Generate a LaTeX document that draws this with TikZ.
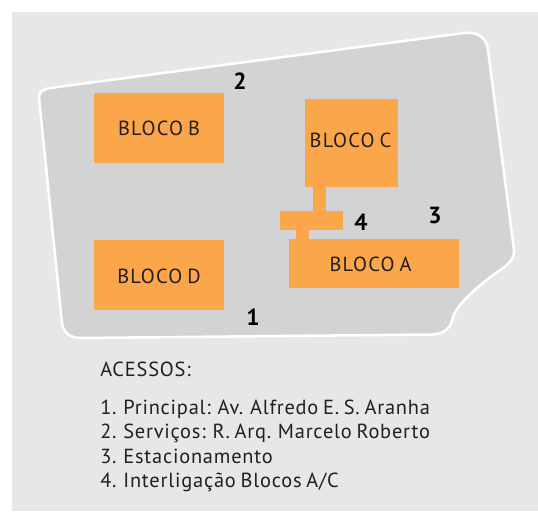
\documentclass[tikz,border=0pt]{standalone}
\usepackage{fontspec}
\setmainfont{PT Sans}
\newfontfamily\blocofont[LetterSpace=6,WordSpace=0.75]{PT Sans}
\newfontfamily\legendfont[LetterSpace=3.9,WordSpace=0.75]{PT Sans}
\definecolor{bgc}{HTML}{E6E7E8}
\definecolor{sitec}{HTML}{D1D3D4}
\definecolor{bloc}{HTML}{FBA64A}
\definecolor{ink}{HTML}{231F20}
\tikzset{
  blocobox/.style={fill=bloc,draw=none,inner sep=0pt},
  blocotext/.style={inner sep=0pt,anchor=base,text=ink,font=\blocofont\fontsize{15.3}{17}\selectfont},
  linkbar/.style={draw=bloc,line width=9.75pt},
  marker/.style={inner sep=0pt,anchor=base,text=black,font=\fontsize{17.5}{19}\selectfont\bfseries},
  legend/.style={inner sep=0pt,anchor=base west,text=ink,font=\legendfont\fontsize{15.3}{17}\selectfont},
}
\begin{document}
\begin{tikzpicture}[x=0.75pt,y=-0.75pt]
\useasboundingbox (0,0) rectangle (538,511);
\fill[bgc] (12,12) rectangle (538,511);
\draw[fill=sitec,draw=white,line width=1.9pt]
  (39,98) .. controls (38.5,92) and (43,89) .. (50,88)
  -- (464,33) .. controls (478,31.5) and (487,38) .. (488,50)
  -- (514,250) .. controls (514.5,258) and (510,263) .. (503,268)
  .. controls (484,281) and (458,302) .. (453,317)
  .. controls (451,328) and (444,334) .. (432,334.5)
  -- (80,338) .. controls (70,338) and (63,332) .. (62,323)
  -- cycle;
\node[blocobox,minimum width=97.5pt,minimum height=52.5pt] (blocoB) at (159,128) {};
\node[blocobox,minimum width=69.75pt,minimum height=66pt] (blocoC) at (351.5,143) {};
\node[blocobox,minimum width=127.5pt,minimum height=36.75pt] (blocoA) at (374,263.5) {};
\node[blocobox,minimum width=97.5pt,minimum height=52.5pt] (blocoD) at (159,275) {};
\node[blocobox,minimum width=47.25pt,minimum height=14.25pt] (ponte) at (311.5,220.5) {};
\coordinate (pc) at (319.5,187);
\coordinate (pa) at (302.5,239);
\draw[linkbar] (pc) -- (pc |- ponte.north);
\draw[linkbar] (pa |- ponte.south) -- (pa);
\node[blocotext] (tB) at (159,135) {BLOCO B};
\node[blocotext] (tC) at (350.5,147) {BLOCO C};
\node[blocotext] (tA) at (370.5,271) {BLOCO A};
\node[blocotext] (tD) at (159,283) {BLOCO D};
\node[marker] (m2) at (240,89) {2};
\node[marker] (m4) at (361,230) {4};
\node[marker] (m3) at (435,223) {3};
\node[marker] (m1) at (253,325) {1};
\node[legend] (t0) at (100,376) {ACESSOS:};
\node[legend] (t1) at (100,414) {1. Principal: Av. Alfredo E. S. Aranha};
\node[legend] (t2) at (100,438) {2. Serviços: R. Arq. Marcelo Roberto};
\node[legend] (t3) at (100,463) {3. Estacionamento};
\node[legend] (t4) at (100,487) {4. Interligação Blocos A/C};
\end{tikzpicture}
\end{document}
